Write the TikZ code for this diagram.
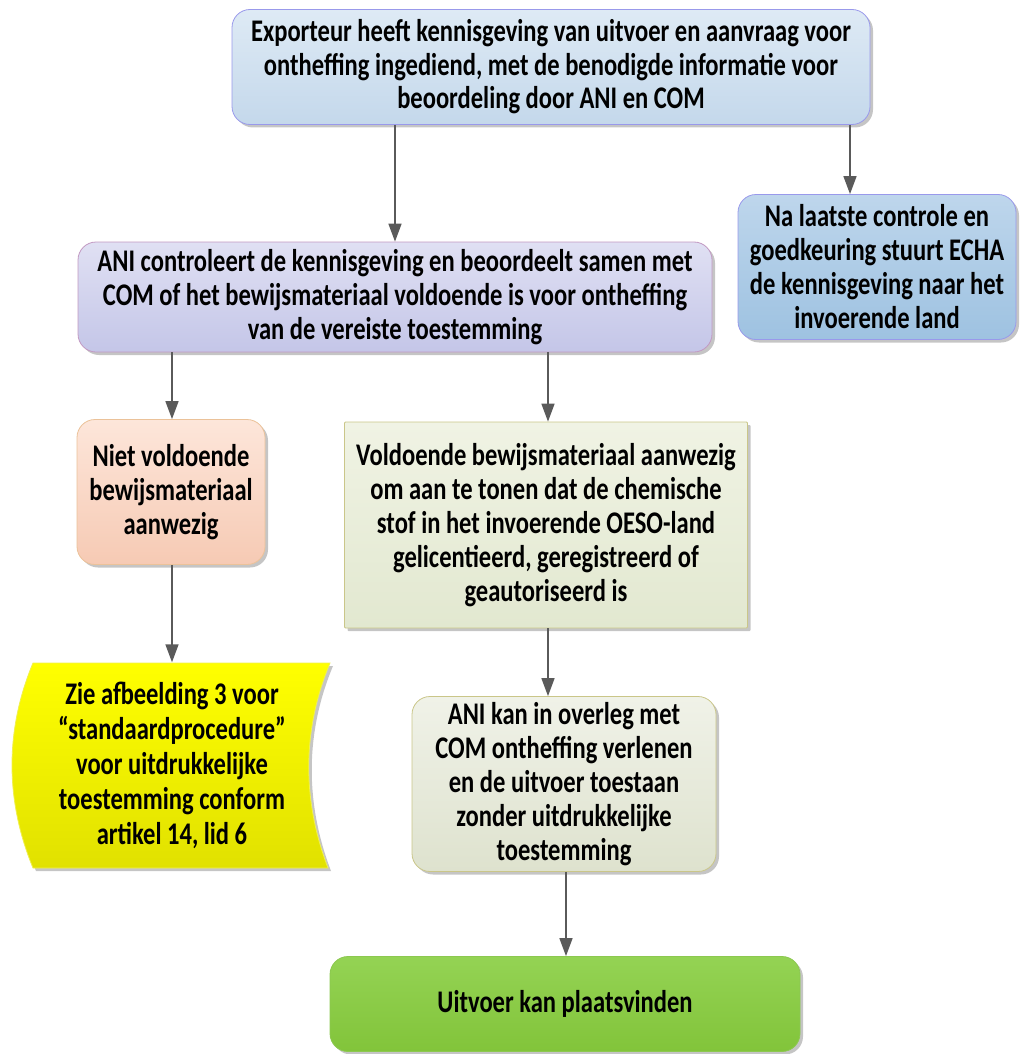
\documentclass[tikz,border=0pt]{standalone}
\usepackage{fontspec}
\setmainfont{Carlito}[FakeStretch=0.78]
\usetikzlibrary{arrows.meta,shadows}

\tikzset{
  box/.style={rounded corners=18pt, align=center, inner sep=0pt, draw=#1!80!black!40, line width=0.8pt,
    drop shadow={shadow xshift=3pt, shadow yshift=-3pt, fill=black!45, opacity=0.5},
    font=\fontsize{31.5}{34}\selectfont\bfseries},
  flow/.style={-{Triangle[length=18pt,width=13pt]}, line width=1.6pt, draw=arrgray},
}
\definecolor{arrgray}{HTML}{5A5A5A}

\begin{document}
\begin{tikzpicture}[x=1pt,y=-1pt]
\useasboundingbox (0,0) rectangle (1021,1054);

\node[box=blue, top color={rgb,255:red,222;green,234;blue,245}, bottom color={rgb,255:red,196;green,216;blue,235},
  minimum width=638pt, minimum height=115pt, font=\fontsize{31.5}{33.5}\selectfont\bfseries] (expo) at (551,67)
  {Exporteur heeft kennisgeving van uitvoer en aanvraag voor\\ontheffing ingediend, met de benodigde informatie voor\\beoordeling door ANI en COM};

\node[box=blue, top color={rgb,255:red,190;green,214;blue,236}, bottom color={rgb,255:red,158;green,194;blue,225},
  minimum width=278pt, minimum height=145pt] (echa) at (877,267)
  {Na laatste controle en\\goedkeuring stuurt ECHA\\de kennisgeving naar het\\invoerende land};

\node[box=violet, top color={rgb,255:red,224;green,224;blue,243}, bottom color={rgb,255:red,196;green,198;blue,232},
  minimum width=634pt, minimum height=110pt] (ani) at (395,297)
  {ANI controleert de kennisgeving en beoordeelt samen met\\COM of het bewijsmateriaal voldoende is voor ontheffing\\van de vereiste toestemming};

\node[box=orange, top color={rgb,255:red,253;green,230;blue,218}, bottom color={rgb,255:red,246;green,202;blue,180},
  minimum width=188pt, minimum height=145pt] (niet) at (171,492)
  {Niet voldoende\\bewijsmateriaal\\aanwezig};

\node[box=olive, rounded corners=1pt, top color={rgb,255:red,240;green,243;blue,228}, bottom color={rgb,255:red,226;green,232;blue,208},
  minimum width=403pt, minimum height=206pt] (vold) at (546,525)
  {Voldoende bewijsmateriaal aanwezig\\om aan te tonen dat de chemische\\stof in het invoerende OESO-land\\gelicentieerd, geregistreerd of\\geautoriseerd is};

% golvende vorm
\path[draw={rgb,255:red,240;green,240;blue,80}, line width=0.8pt, top color=yellow, bottom color={rgb,255:red,225;green,225;blue,0},
  drop shadow={shadow xshift=3pt, shadow yshift=-3pt, fill=black!45, opacity=0.5}]
  (33,663) -- (330,663) .. controls (302,730) and (302,800) .. (328,868)
  -- (33,868) .. controls (5,800) and (5,730) .. (33,663) -- cycle;
\node[align=center, inner sep=0pt, minimum width=297pt, minimum height=205pt,
  font=\fontsize{31.5}{35}\selectfont\bfseries] (zie) at (172,765)
  {Zie afbeelding 3 voor\\“standaardprocedure”\\voor uitdrukkelijke\\toestemming conform\\artikel 14, lid 6};

\node[box=olive, top color={rgb,255:red,240;green,242;blue,232}, bottom color={rgb,255:red,222;green,226;blue,206},
  minimum width=304pt, minimum height=175pt] (kan) at (564,784)
  {ANI kan in overleg met\\COM ontheffing verlenen\\en de uitvoer toestaan\\zonder uitdrukkelijke\\toestemming};

\node[box=green, top color={rgb,255:red,148;green,211;blue,84}, bottom color={rgb,255:red,130;green,196;blue,58},
  draw={rgb,255:red,140;green,200;blue,80}, minimum width=470pt, minimum height=95pt] (uit) at (565,1004)
  {Uitvoer kan plaatsvinden};

\draw[flow] (expo.south -| 395,0) -- (ani.north -| 395,0);
\draw[flow] (expo.south -| 850,0) -- (echa.north -| 850,0);
\draw[flow] (ani.south -| 172,0) -- (niet.north -| 172,0);
\draw[flow] (ani.south -| 548,0) -- (vold.north -| 548,0);
\draw[flow] (niet.south -| 172,0) -- (zie.north -| 172,0);
\draw[flow] (vold.south -| 548,0) -- (kan.north -| 548,0);
\draw[flow] (kan.south -| 566,0) -- (uit.north -| 566,0);

\end{tikzpicture}
\end{document}
